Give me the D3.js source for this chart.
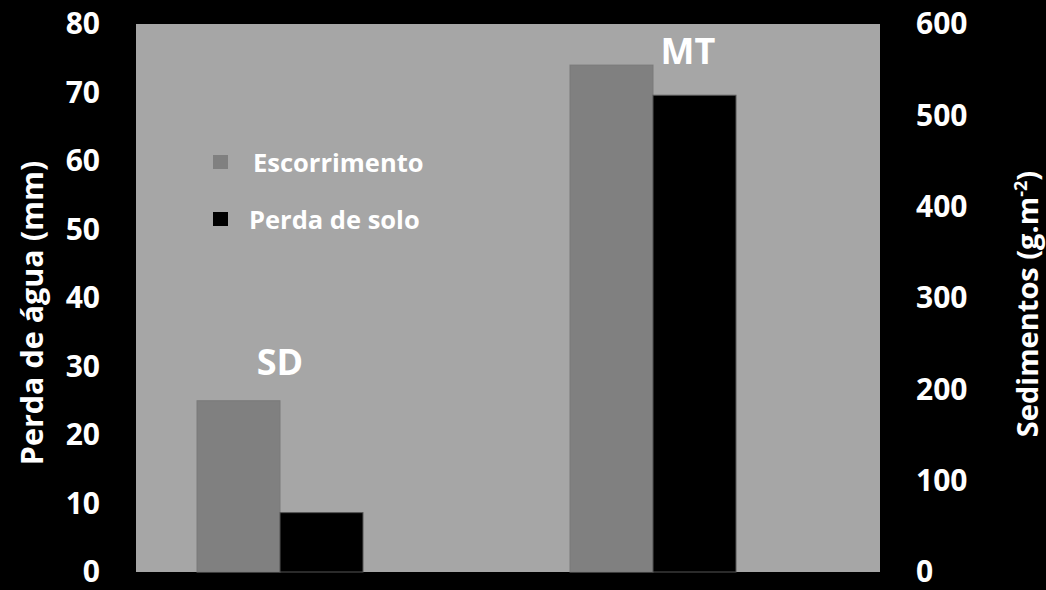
<!DOCTYPE html>
<html>
<head>
<meta charset="utf-8">
<script src="https://cdn.jsdelivr.net/npm/d3@7"></script>
<style>
  html, body { margin: 0; padding: 0; background: #000; }
  svg { display: block; }
  text { font-family: "Open Sans", Lato, sans-serif; font-weight: bold; fill: #fff; }
</style>
</head>
<body>
<svg id="chart" width="1046" height="590"></svg>
<script>
const categories = ["SD", "MT"];
const seriesNames = ["Escorrimento", "Perda de solo"];
const escorrimento = [25, 74];     // Perda de água (mm), left axis
const perdaSolo = [65, 522];       // Sedimentos (g.m-2), right axis
const leftTicks = [0, 10, 20, 30, 40, 50, 60, 70, 80];
const rightTicks = [0, 100, 200, 300, 400, 500, 600];

const W = 1046, H = 590;
const plot = { left: 136, right: 880, top: 24, bottom: 572 };
const svg = d3.select("#chart");

svg.append("rect").attr("width", W).attr("height", H).attr("fill", "#000");
svg.append("rect")
  .attr("x", plot.left).attr("y", plot.top)
  .attr("width", plot.right - plot.left).attr("height", plot.bottom - plot.top)
  .attr("fill", "#a6a6a6");

const yL = d3.scaleLinear().domain([0, 80]).range([plot.bottom, plot.top]);
const yR = d3.scaleLinear().domain([0, 600]).range([plot.bottom, plot.top]);

const x0 = d3.scaleBand().domain(categories).range([93.5, 839.5])
  .paddingInner(0.555).paddingOuter(0.2775);
const x1 = d3.scaleBand().domain(seriesNames).range([0, x0.bandwidth()]);

const colors = { "Escorrimento": "#808080", "Perda de solo": "#000000" };

const g = svg.append("g");
g.selectAll("rect.esc").data(categories).join("rect")
  .attr("class", "esc")
  .attr("x", d => x0(d) + x1("Escorrimento"))
  .attr("width", x1.bandwidth())
  .attr("y", (d, i) => yL(escorrimento[i]))
  .attr("height", (d, i) => yL(0) - yL(escorrimento[i]))
  .attr("fill", colors["Escorrimento"])
  .attr("stroke", "#7a7a7a").attr("stroke-width", 1);
g.selectAll("rect.sol").data(categories).join("rect")
  .attr("class", "sol")
  .attr("x", d => x0(d) + x1("Perda de solo"))
  .attr("width", x1.bandwidth())
  .attr("y", (d, i) => yR(perdaSolo[i]))
  .attr("height", (d, i) => yR(0) - yR(perdaSolo[i]))
  .attr("fill", colors["Perda de solo"])
  .attr("stroke", "#555").attr("stroke-width", 1);

// Category labels
const labelOffset = { "SD": { dx: 0, dy: -26 }, "MT": { dx: 35, dy: -1 } };
g.selectAll("text.cat").data(categories).join("text")
  .attr("class", "cat")
  .attr("x", d => x0(d) + x0.bandwidth() / 2 + labelOffset[d].dx)
  .attr("y", (d, i) => yL(escorrimento[i]) + labelOffset[d].dy)
  .attr("text-anchor", "middle")
  .attr("font-size", 36)
  .text(d => d);

const tickFont = sel => sel.attr("font-size", 30).attr("fill", "#fff")
  .attr("font-family", "'Open Sans', sans-serif").attr("font-weight", "bold").attr("dy", "0.33em");

const axL = d3.axisLeft(yL).tickValues(leftTicks).tickSize(0).tickPadding(0);
const gl = svg.append("g").attr("transform", "translate(100,0)").call(axL);
gl.select(".domain").remove();
gl.selectAll("text").call(tickFont);

const axR = d3.axisRight(yR).tickValues(rightTicks).tickSize(0).tickPadding(0);
const gr = svg.append("g").attr("transform", "translate(916,0)").call(axR);
gr.select(".domain").remove();
gr.selectAll("text").call(tickFont);

// Axis titles
svg.append("text")
  .attr("transform", "translate(43,313) rotate(-90)")
  .attr("text-anchor", "middle").attr("font-size", 30.5)
  .text("Perda de água (mm)");
const rt = svg.append("text")
  .attr("transform", "translate(1038,304) rotate(-90)")
  .attr("text-anchor", "middle").attr("font-size", 29);
rt.append("tspan").text("Sedimentos (g.m");
rt.append("tspan").attr("font-size", 18).attr("dy", -11).text("-2");
rt.append("tspan").attr("dy", 11).text(")");

// Legend
const legend = svg.append("g");
const legY = [162, 219];
seriesNames.forEach((s, i) => {
  legend.append("rect")
    .attr("x", 213).attr("y", legY[i] - 7)
    .attr("width", 15).attr("height", 14)
    .attr("fill", colors[s]);
  legend.append("text")
    .attr("x", i === 0 ? 253 : 249).attr("y", legY[i] + 10)
    .attr("font-size", 25.5)
    .text(s);
});
</script>
</body>
</html>
